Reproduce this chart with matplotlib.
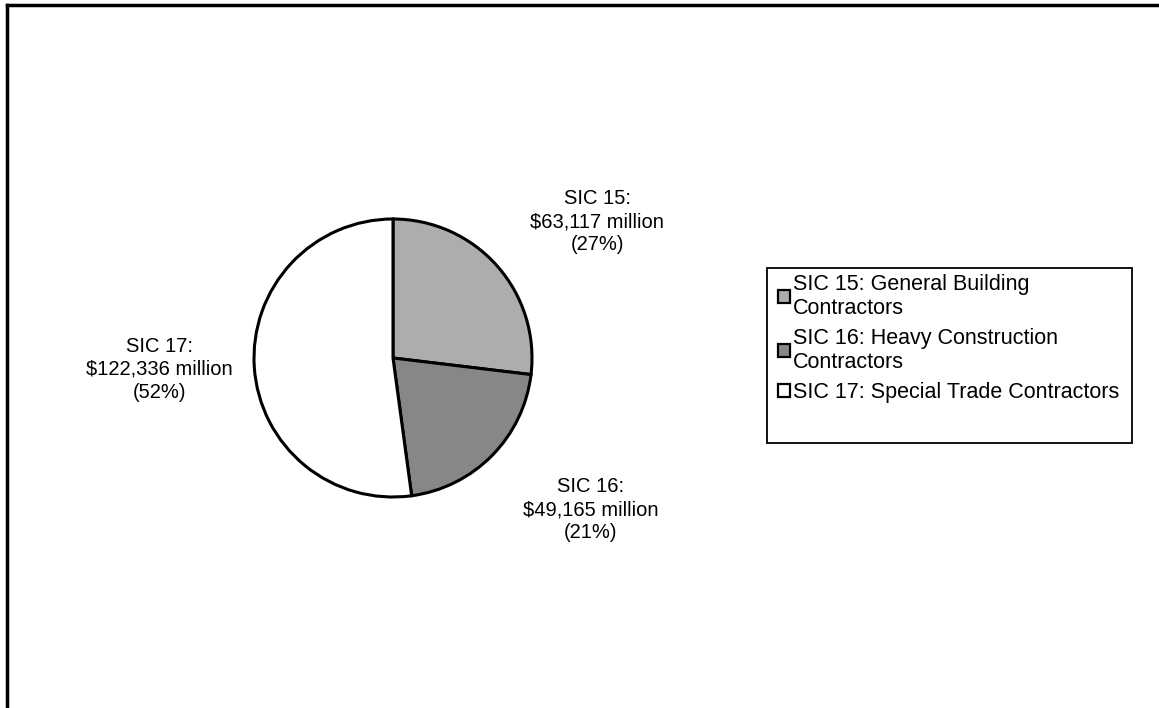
import matplotlib
matplotlib.use("Agg")
import matplotlib.pyplot as plt
from matplotlib.patches import Patch, Rectangle
from matplotlib.lines import Line2D

plt.rcParams['font.family'] = ['Liberation Sans', 'DejaVu Sans']

categories = ["SIC 15", "SIC 16", "SIC 17"]
values = [63117, 49165, 122336]
percents = ["27%", "21%", "52%"]
legend_labels = ["SIC 15: General Building\nContractors",
                 "SIC 16: Heavy Construction\nContractors",
                 "SIC 17: Special Trade Contractors"]
colors = ["#adadad", "#878787", "#ffffff"]

W, H = 1159, 708
fig = plt.figure(figsize=(W / 100, H / 100), dpi=100)
fig.patch.set_facecolor("white")

cx, cy, r = 393, 358, 139
ax = fig.add_axes([(cx - r) / W, (H - cy - r) / H, 2 * r / W, 2 * r / H])
wedges, _ = ax.pie(values, colors=colors, startangle=90, counterclock=False,
                   radius=1, wedgeprops=dict(edgecolor="black", linewidth=2.2))
ax.set_xlim(-1, 1)
ax.set_ylim(-1, 1)
ax.set_aspect("equal")
ax.axis("off")

label_pos = [(1.47, 0.98), (1.42, -1.09), (-1.68, -0.08)]
for cat, v, p, (x, y) in zip(categories, values, percents, label_pos):
    ax.text(x, y, f"{cat}:\n${v:,} million\n({p})", ha="center", va="center",
            fontsize=14.5, linespacing=1.27, clip_on=False)

# legend
fig.add_artist(Rectangle((767 / W, 1 - 443 / H), (1132 - 767) / W, (443 - 268) / H,
                         transform=fig.transFigure, facecolor="white",
                         edgecolor="black", linewidth=1.3, zorder=1))
handles = [Patch(facecolor=c, edgecolor="black", linewidth=1.6) for c in colors]
leg = fig.legend(handles, legend_labels, loc="upper left",
                 bbox_to_anchor=(774 / W, 1 - 270 / H), fontsize=15.5,
                 frameon=False, handlelength=0.55, handleheight=0.55,
                 handletextpad=0.15, borderpad=0.2, labelspacing=0.45,
                 borderaxespad=0)
leg.set_zorder(2)
for t in leg.get_texts():
    t.set_linespacing(1.15)

# outer frame (top and left)
fig.add_artist(Line2D([7 / W, 1.0], [1 - 5 / H, 1 - 5 / H], color="black", lw=2.5))
fig.add_artist(Line2D([7 / W, 7 / W], [0, 1 - 5 / H], color="black", lw=2.5))

fig.savefig("out.png", dpi=100)
